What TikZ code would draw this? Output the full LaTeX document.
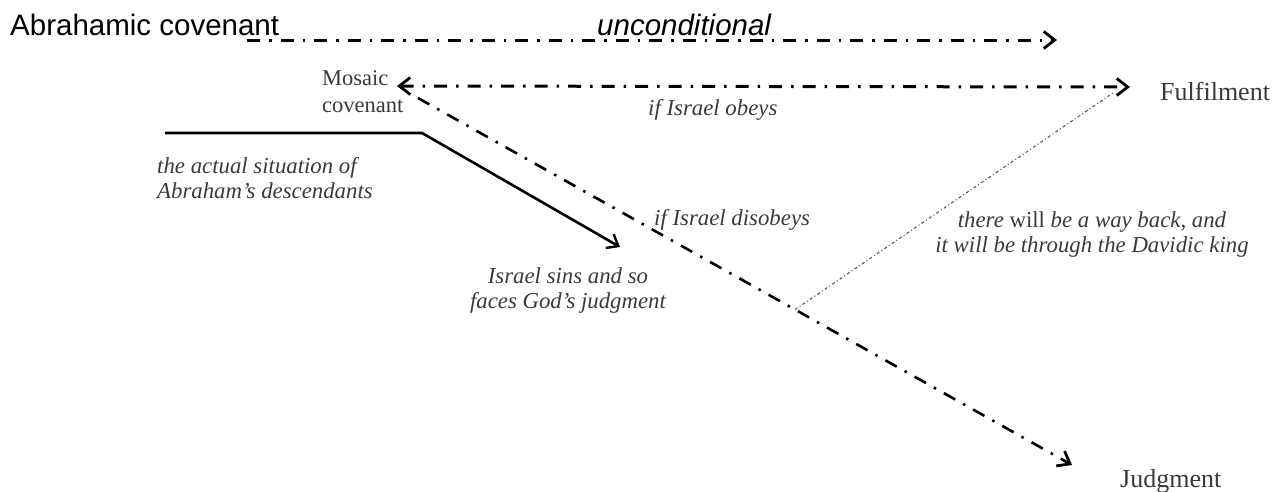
\documentclass[tikz,border=0pt]{standalone}
\usepackage{fontspec}
\setmainfont{Liberation Serif}
\newfontfamily\arialfont{Liberation Sans}
\usetikzlibrary{arrows.meta,calc}
\definecolor{txtgray}{HTML}{3A3A3A}
\tikzset{
  dashdot/.style={line width=3pt, dash pattern=on 13pt off 9pt on 2.5pt off 9pt},
  mytip/.tip={Straight Barb[length=11pt,width=17pt,line width=2.8pt]},
  soltip/.tip={Straight Barb[length=10pt,width=16pt,line width=2.4pt]},
  sanslabel/.style={inner sep=0pt, font=\arialfont\fontsize{29.5}{32}\selectfont, text=black},
  serlabel/.style={inner sep=0pt, font=\fontsize{26}{27}\selectfont, text=txtgray},
  itlabel/.style={inner sep=0pt, font=\itshape\fontsize{22.8}{25}\selectfont, text=txtgray, align=center},
}
\begin{document}
\begin{tikzpicture}[x=1pt,y=-1pt]
\useasboundingbox (0,0) rectangle (1286,491);
% labels
\node[sanslabel, anchor=base west] (abr) at (10,35) {Abrahamic covenant};
\node[sanslabel, anchor=base west, font=\arialfont\itshape\fontsize{29.5}{32}\selectfont] (uncond) at (597,35) {unconditional};
\node[serlabel, anchor=north west, align=left, font=\fontsize{22.5}{27}\selectfont] (mosaic) at (322,70) {Mosaic\\covenant};
\node[serlabel, anchor=base west] (fulfil) at (1160,100) {Fulfilment};
\node[serlabel, anchor=base west] (judg) at (1120,487) {Judgment};
\node[itlabel, anchor=base west] (obeys) at (648,115) {if Israel obeys};
\node[itlabel, anchor=base west] (disobeys) at (654,225) {if Israel disobeys};
\node[itlabel, anchor=base west, align=left] (actual) at (157,198) {the actual situation of\\Abraham’s descendants};
\node[itlabel, anchor=base] (sins) at (568,308) {Israel sins and so\\faces God’s judgment};
\node[itlabel, anchor=base] (wayback) at (1092,252) {there {\upshape will} be a way back, and\\it will be through the Davidic king};
% connector end points
\coordinate (topS) at (247,40);
\coordinate (topE) at (1057,40);
\coordinate (mosL) at (397,86);
\coordinate (mosR) at (1130,87);
\coordinate (diagS) at (418,98);
\coordinate (diagE) at (1072,465);
\coordinate (junc) at ($(diagS)!0.5765!(diagE)$);
\coordinate (dotE) at (1113,93);
\coordinate (solA) at (165,133);
\coordinate (solB) at (422,133);
\coordinate (solE) at (620,247);
% connectors
\draw[dashdot, -{mytip}] (topS) -- (topE);
\draw[dashdot, {mytip}-{mytip}] (mosL) -- (mosR);
\draw[dashdot, line width=2.6pt, -{mytip}] (diagS) -- (diagE);
\draw[txtgray!85, line width=1.1pt, dash pattern=on 3pt off 2.5pt on 1pt off 2.5pt] (junc) -- (dotE);
\draw[line width=2.6pt, -{soltip}] (solA) -- (solB) -- (solE);
\end{tikzpicture}
\end{document}
